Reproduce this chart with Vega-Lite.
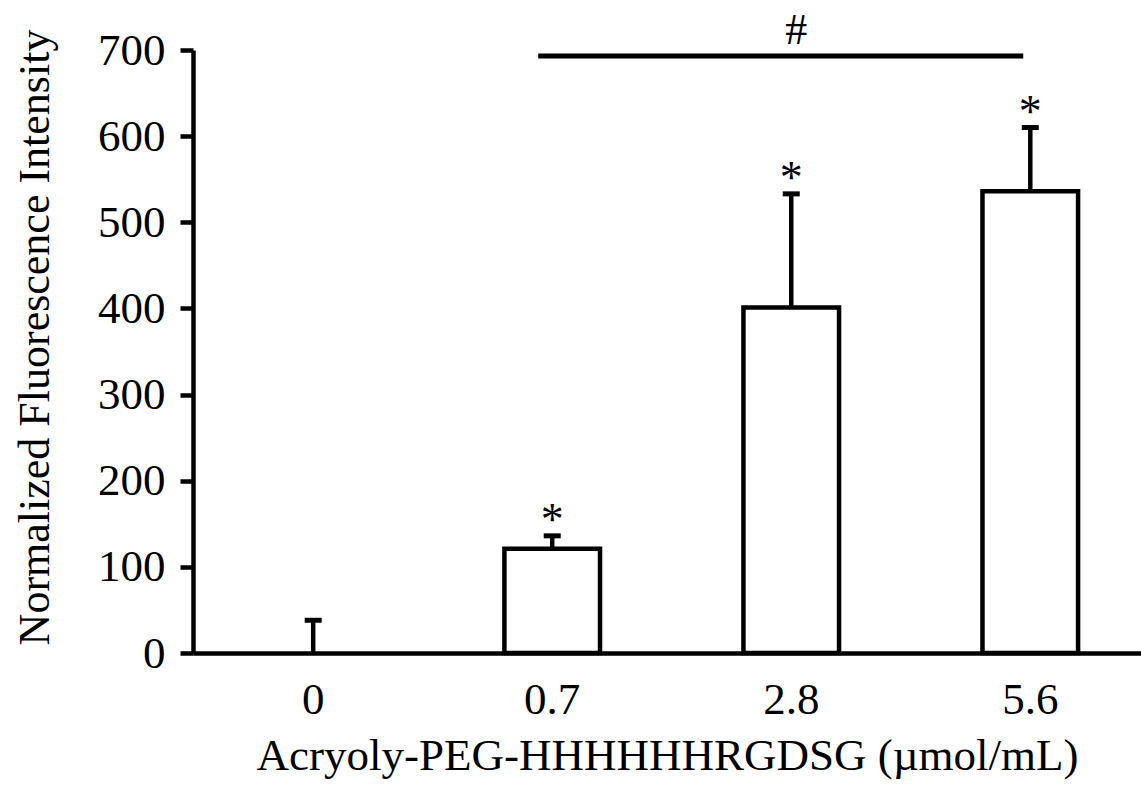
{
  "$schema": "https://vega.github.io/schema/vega-lite/v6.json",
  "autosize": "none",
  "padding": {"left": 193, "top": 50, "right": 0, "bottom": 133},
  "width": 948,
  "height": 603,
  "background": "white",
  "config": {
    "view": {"stroke": null},
    "font": "Liberation Serif",
    "axis": {"grid": false, "domainColor": "black", "tickColor": "black", "labelColor": "black", "titleColor": "black", "labelFont": "Liberation Serif", "titleFont": "Liberation Serif", "titleFontWeight": "normal"}
  },
  "datasets": {
    "bars": [
      {"conc": "0", "mean": 0, "upper": 38, "sig": ""},
      {"conc": "0.7", "mean": 121, "upper": 136, "sig": "*"},
      {"conc": "2.8", "mean": 401, "upper": 533, "sig": "*"},
      {"conc": "5.6", "mean": 536, "upper": 610, "sig": "*"}
    ],
    "bracket": [
      {"from": "0.7", "to": "5.6", "level": 693, "label": "#", "at": "2.8"}
    ]
  },
  "layer": [
    {
      "data": {"name": "bars"},
      "transform": [{"filter": "datum.mean > 0"}],
      "mark": {"type": "bar", "fill": "white", "stroke": "black", "strokeWidth": 4.5, "strokeJoin": "miter"},
      "encoding": {
        "x": {
          "field": "conc", "type": "nominal", "sort": ["0", "0.7", "2.8", "5.6"],
          "scale": {"domain": ["0", "0.7", "2.8", "5.6"], "paddingInner": 0.6, "paddingOuter": 0.283, "align": 0.535},
          "axis": {
            "title": "Acryoly-PEG-HHHHHHRGDSG (µmol/mL)",
            "labelAngle": 0, "ticks": false, "tickSize": 0,
            "domainWidth": 4.5,
            "labelFontSize": 45, "labelBaseline": "alphabetic", "labelPadding": 60,
            "titleFontSize": 45, "titleBaseline": "alphabetic", "titleY": 116
          }
        },
        "y": {
          "field": "mean", "type": "quantitative",
          "scale": {"domain": [0, 700], "nice": false},
          "axis": {
            "title": "Normalized Fluorescence Intensity",
            "values": [0, 100, 200, 300, 400, 500, 600, 700],
            "domainWidth": 4.5, "tickWidth": 4.5, "tickSize": 13,
            "labelFontSize": 45, "labelPadding": 15, "labelBaseline": "middle",
            "titleFontSize": 44, "titleBaseline": "alphabetic", "titleX": -145, "titleY": 287, "titleAnchor": "middle"
          }
        }
      }
    },
    {
      "data": {"name": "bars"},
      "mark": {"type": "rule", "stroke": "black", "strokeWidth": 4.5},
      "encoding": {
        "x": {"field": "conc", "type": "nominal", "sort": ["0", "0.7", "2.8", "5.6"]},
        "y": {"field": "mean", "type": "quantitative"},
        "y2": {"field": "upper"}
      }
    },
    {
      "data": {"name": "bars"},
      "mark": {"type": "tick", "color": "black", "size": 17, "thickness": 5, "opacity": 1},
      "encoding": {
        "x": {"field": "conc", "type": "nominal", "sort": ["0", "0.7", "2.8", "5.6"]},
        "y": {"field": "upper", "type": "quantitative"}
      }
    },
    {
      "data": {"name": "bars"},
      "mark": {"type": "text", "font": "Liberation Serif", "fontSize": 46, "baseline": "alphabetic", "dy": -1, "color": "black"},
      "encoding": {
        "x": {"field": "conc", "type": "nominal", "sort": ["0", "0.7", "2.8", "5.6"]},
        "y": {"field": "upper", "type": "quantitative"},
        "text": {"field": "sig"}
      }
    },
    {
      "data": {"name": "bracket"},
      "mark": {"type": "rule", "stroke": "black", "strokeWidth": 5, "xOffset": -14, "x2Offset": -7},
      "encoding": {
        "x": {"field": "from", "type": "nominal", "sort": ["0", "0.7", "2.8", "5.6"]},
        "x2": {"field": "to"},
        "y": {"field": "level", "type": "quantitative"}
      }
    },
    {
      "data": {"name": "bracket"},
      "mark": {"type": "text", "font": "Liberation Serif", "fontSize": 44, "baseline": "alphabetic", "dy": -12, "dx": 5, "color": "black"},
      "encoding": {
        "x": {"field": "at", "type": "nominal", "sort": ["0", "0.7", "2.8", "5.6"]},
        "y": {"field": "level", "type": "quantitative"},
        "text": {"field": "label"}
      }
    }
  ]
}
